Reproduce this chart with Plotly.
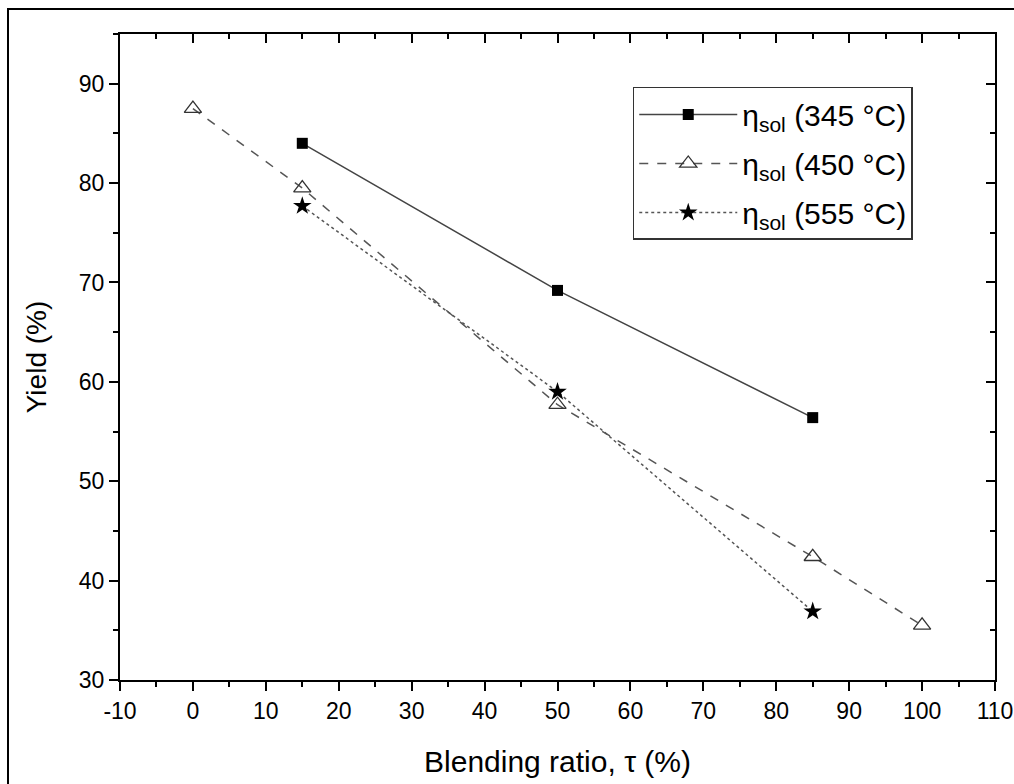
import plotly.graph_objects as go

# Data
x_345 = [15, 50, 85]
y_345 = [84.0, 69.2, 56.4]

x_450 = [0, 15, 50, 85, 100]
y_450 = [87.5, 79.5, 57.7, 42.4, 35.5]

x_555 = [15, 50, 85]
y_555 = [77.7, 59.0, 36.9]

names = ["η<sub>sol</sub> (345 °C)", "η<sub>sol</sub> (450 °C)", "η<sub>sol</sub> (555 °C)"]

x_ticks = list(range(-10, 111, 10))
x_tick_labels = ["-10", "0", "10", "20", "30", "40", "50", "60", "70", "80", "90", "100", "110"]
y_ticks = list(range(30, 91, 10))
y_tick_labels = ["30", "40", "50", "60", "70", "80", "90"]

FONT = "Liberation Sans, Arial, sans-serif"

fig = go.Figure()
fig.add_trace(go.Scatter(
    x=x_345, y=y_345, name=names[0], mode="lines+markers", legendgroup="a",
    line=dict(color="#444444", width=1.5, dash="solid"),
    marker=dict(symbol="square", size=11, color="black"),
))
fig.add_trace(go.Scatter(
    x=x_450, y=y_450, name=names[1], mode="lines+markers", legendgroup="b",
    line=dict(color="#555555", width=1.5, dash="dash"),
    marker=dict(symbol="triangle-up-open", size=15, color="#333333", line=dict(width=1.3)),
))
fig.add_trace(go.Scatter(
    x=x_555, y=y_555, name=names[2], mode="lines+markers", legendgroup="c",
    line=dict(color="#555555", width=1.5, dash="dot"),
    marker=dict(symbol="star", size=14, color="black"),
))
# invisible trace for mirrored (inward) axes
fig.add_trace(go.Scatter(x=[], y=[], xaxis="x2", yaxis="y2", showlegend=False, hoverinfo="skip"))

axis_common = dict(showgrid=False, zeroline=False, showline=True, linecolor="black",
                   linewidth=2, automargin=False)

fig.update_layout(
    width=1014, height=784,
    margin=dict(l=120, r=19, t=34, b=104),
    paper_bgcolor="white", plot_bgcolor="white",
    font=dict(family=FONT, color="black"),
    showlegend=True,
    legend=dict(
        x=0.586, y=0.918, xanchor="left", yanchor="top",
        bgcolor="white", bordercolor="#333333", borderwidth=1.5,
        font=dict(size=30, family=FONT, color="black"),
        itemwidth=98, tracegroupgap=7,
    ),
    xaxis=dict(
        **axis_common, range=[-10, 110], tickmode="array", tickvals=x_ticks, ticktext=x_tick_labels,
        ticks="outside", ticklen=9, tickwidth=2, tickcolor="black",
        tickfont=dict(size=23, family=FONT),
        minor=dict(dtick=5, tick0=0, ticks="outside", ticklen=5, tickwidth=2, tickcolor="black"),
        title=dict(text="Blending ratio, τ (%)", font=dict(size=30, family=FONT), standoff=28),
    ),
    yaxis=dict(
        **axis_common, range=[30, 95], tickmode="array", tickvals=y_ticks, ticktext=y_tick_labels,
        ticks="outside", ticklen=9, tickwidth=2, tickcolor="black",
        tickfont=dict(size=23, family=FONT),
        minor=dict(dtick=5, tick0=0, ticks="outside", ticklen=5, tickwidth=2, tickcolor="black"),
        title=dict(text="Yield (%)", font=dict(size=28, family=FONT), standoff=24),
    ),
    xaxis2=dict(
        **axis_common, overlaying="x", side="top", range=[-10, 110], tickvals=x_ticks,
        ticks="inside", ticklen=9, tickwidth=2, tickcolor="black", showticklabels=False,
        minor=dict(dtick=5, tick0=0, ticks="inside", ticklen=5, tickwidth=2, tickcolor="black"),
    ),
    yaxis2=dict(
        **axis_common, overlaying="y", side="right", range=[30, 95], tickvals=y_ticks,
        ticks="inside", ticklen=9, tickwidth=2, tickcolor="black", showticklabels=False,
        minor=dict(dtick=5, tick0=0, ticks="inside", ticklen=5, tickwidth=2, tickcolor="black"),
    ),
    shapes=[dict(
        type="rect", xref="paper", yref="paper",
        x0=-0.128, x1=1.03, y0=-0.175, y1=1.0387,
        line=dict(color="black", width=2), fillcolor="rgba(0,0,0,0)", layer="below",
    )],
)

fig.write_html("out.html", config={"displayModeBar": False})

# remove default page margin so the figure sits at the window origin
with open("out.html", "r", encoding="utf-8") as f:
    html = f.read()
html = html.replace("<body>", '<body style="margin:0;padding:0;overflow:hidden">', 1)
with open("out.html", "w", encoding="utf-8") as f:
    f.write(html)
